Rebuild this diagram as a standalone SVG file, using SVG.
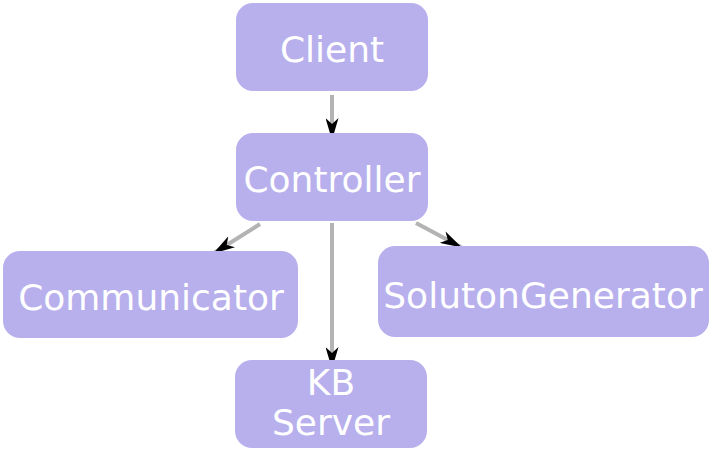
<svg xmlns="http://www.w3.org/2000/svg" width="712" height="452" viewBox="0 0 712 452">
<style>
.n{fill:#b8afed;}
.t{font-family:"DejaVu Sans",sans-serif;font-size:36px;fill:#ffffff;text-anchor:middle;}
.e{stroke:#b3b3b3;stroke-width:4;fill:none;marker-end:url(#ah);}
</style>
<defs>
<marker id="ah" viewBox="0 0 22 13" refX="21" refY="6.5" markerWidth="22" markerHeight="13" markerUnits="userSpaceOnUse" orient="auto">
<path d="M0,0 L22,6.5 L0,13 L6,6.5 Z" fill="#000"/>
</marker>
</defs>
<g id="edges">
<line class="e" x1="332" y1="95" x2="332" y2="139"/>
<line class="e" x1="260" y1="224" x2="214" y2="253"/>
<line class="e" x1="416" y1="223" x2="461" y2="247"/>
<line class="e" x1="332" y1="223" x2="332" y2="368"/>
</g>
<g id="client"><rect class="n" x="236" y="3" width="192" height="88" rx="17"/><text class="t" x="332" y="62">Client</text></g>
<g id="controller"><rect class="n" x="236" y="133" width="192" height="88" rx="17"/><text class="t" x="332" y="192">Controller</text></g>
<g id="communicator"><rect class="n" x="3" y="251" width="295" height="87" rx="17"/><text class="t" x="151" y="310">Communicator</text></g>
<g id="solutongenerator"><rect class="n" x="378" y="246" width="331" height="91" rx="17"/><text class="t" x="543" y="308">SolutonGenerator</text></g>
<g id="kbserver"><rect class="n" x="235" y="360" width="192" height="88" rx="17"/><text class="t" x="331" y="395">KB</text><text class="t" x="331" y="435">Server</text></g>
</svg>
